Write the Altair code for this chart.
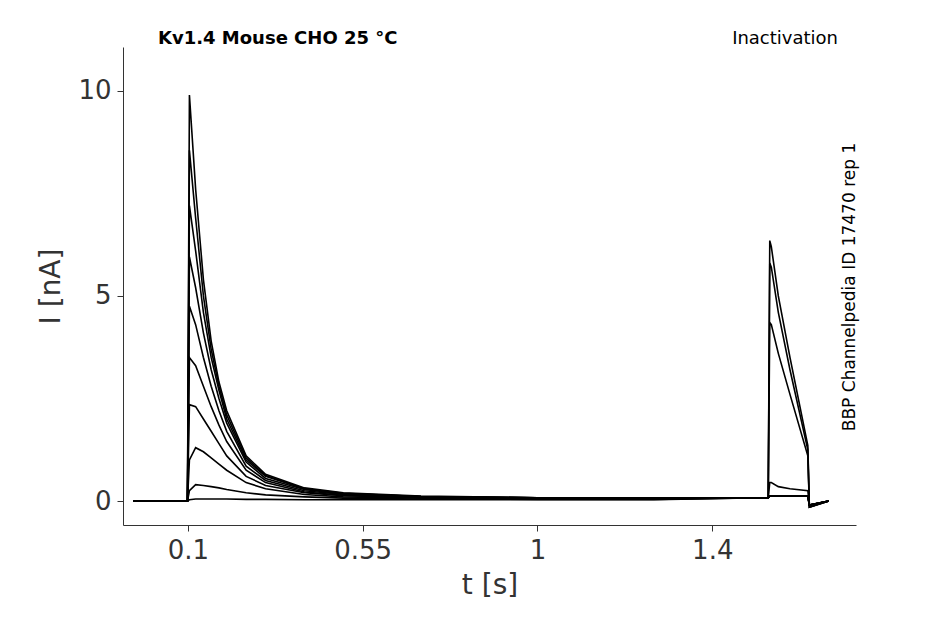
import altair as alt
import pandas as pd

times = [-0.04, 0.099, 0.104, 0.12, 0.14, 0.16, 0.18, 0.2, 0.25, 0.3, 0.4, 0.5, 0.7, 1.0, 1.3,
         1.594, 1.598, 1.602, 1.62, 1.65, 1.696, 1.70, 1.75]
pre = [
    [0,0,9.9,7.6,5.4,3.9,2.9,2.2,1.1,0.65,0.32,0.2,0.12,0.08,0.08],
    [0,0,8.55,6.9,5.0,3.7,2.8,2.1,1.05,0.62,0.3,0.19,0.11,0.08,0.08],
    [0,0,7.2,6.1,4.6,3.5,2.7,2.0,1.0,0.6,0.3,0.18,0.11,0.08,0.08],
    [0,0,5.95,5.2,4.1,3.2,2.5,1.9,0.95,0.55,0.28,0.17,0.1,0.08,0.08],
    [0,0,4.75,4.3,3.5,2.8,2.2,1.7,0.85,0.5,0.25,0.16,0.1,0.07,0.07],
    [0,0,3.5,3.3,2.8,2.3,1.85,1.45,0.75,0.45,0.22,0.14,0.09,0.07,0.07],
    [0,0,2.35,2.3,2.0,1.7,1.4,1.1,0.6,0.38,0.2,0.13,0.08,0.06,0.06],
    [0,0,1.0,1.3,1.2,1.05,0.9,0.75,0.45,0.3,0.16,0.1,0.07,0.05,0.05],
    [0,0,0.25,0.4,0.38,0.35,0.32,0.28,0.2,0.15,0.1,0.07,0.05,0.04,0.04],
    [0,0,0.03,0.05,0.05,0.05,0.05,0.05,0.04,0.04,0.03,0.03,0.03,0.03,0.03],
]
test = [
    [0.08,0.12,0.12,0.12,0.12,0.12,-0.1,0],
    [0.08,0.12,0.12,0.12,0.12,0.12,-0.1,0],
    [0.08,0.12,0.12,0.12,0.12,0.12,-0.1,0],
    [0.08,0.12,0.12,0.12,0.12,0.12,-0.1,0],
    [0.08,0.12,0.12,0.12,0.12,0.12,-0.1,0],
    [0.08,0.12,0.12,0.12,0.12,0.12,-0.1,0],
    [0.08,0.45,0.45,0.35,0.3,0.25,-0.1,0],
    [0.08,4.35,4.3,3.6,2.6,1.1,-0.15,0],
    [0.08,5.8,5.7,4.6,3.2,1.25,-0.15,0],
    [0.08,6.35,6.2,5.0,3.5,1.35,-0.15,0],
]

rows = []
for k in range(10):
    vals = pre[k] + test[k]
    for i, (t, v) in enumerate(zip(times, vals)):
        rows.append({"trace": k, "t": t, "I": v, "o": i})
df = pd.DataFrame(rows)
one = pd.DataFrame({"a": [0]})

lines = alt.Chart(df).mark_line(color="black", strokeWidth=1.6).encode(
    x=alt.X("t:Q", scale=alt.Scale(domain=[-0.067, 1.82], nice=False),
            axis=alt.Axis(values=[0.1, 0.55, 1, 1.45], format="~g", title="t [s]")),
    y=alt.Y("I:Q", scale=alt.Scale(domain=[-0.585, 11.07], nice=False),
            axis=alt.Axis(values=[0, 5, 10], title="I [nA]")),
    detail="trace:N", order="o:Q",
)
font = "DejaVu Sans"
t1 = alt.Chart(one).mark_text(text="Kv1.4  Mouse  CHO  25 °C", fontWeight="bold", fontSize=18,
                              align="left", font=font, color="black").encode(x=alt.value(35), y=alt.value(-8))
t2 = alt.Chart(one).mark_text(text="Inactivation", fontSize=18, align="right", font=font,
                              color="black").encode(x=alt.value(715), y=alt.value(-8))
t3 = alt.Chart(one).mark_text(text="BBP Channelpedia ID 17470 rep 1", fontSize=17, angle=270,
                              align="center", font=font, color="black").encode(x=alt.value(727), y=alt.value(240))

chart = alt.layer(lines, t1, t2, t3).properties(
    width=733, height=478,
    autosize=alt.AutoSizeParams(type="none"),
    padding={"left": 115, "top": 39, "right": 60, "bottom": 90},
).configure_view(stroke=None).configure_axis(
    grid=False, domainColor="#333", tickColor="#333", labelColor="#333", titleColor="#333",
    labelFont=font, titleFont=font, labelFontSize=26, titleFontSize=28, titleFontWeight="normal",
    tickSize=6, labelPadding=6,
).configure_axisX(titlePadding=8).configure_axisY(titlePadding=12)

chart.save("out.html", embed_options={"renderer": "svg", "actions": False})
